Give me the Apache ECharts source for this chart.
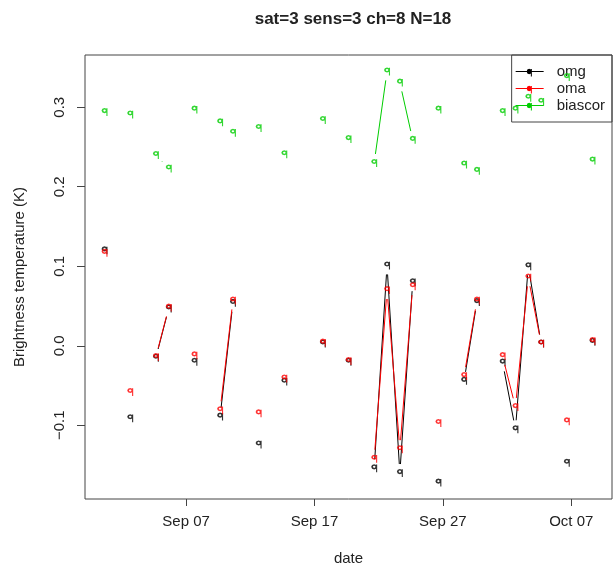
<!DOCTYPE html>
<html>
<head>
<meta charset="utf-8">
<script src="https://cdn.jsdelivr.net/npm/echarts@6/dist/echarts.min.js"></script>
<style>
  html, body { margin: 0; padding: 0; background: #fff; }
  #chart { width: 616px; height: 566px; }
</style>
</head>
<body>
<div id="chart"></div>
<script>
// Daily departures for sat=3, sensor 3, channel 8
const dates = [
  '2014-08-31', '2014-09-02', '2014-09-04', '2014-09-05', '2014-09-07', '2014-09-09',
  '2014-09-10', '2014-09-12', '2014-09-14', '2014-09-17', '2014-09-19', '2014-09-21',
  '2014-09-22', '2014-09-23', '2014-09-24', '2014-09-26', '2014-09-28', '2014-09-29',
  '2014-10-01', '2014-10-02', '2014-10-03', '2014-10-04', '2014-10-06', '2014-10-08'
];
const obsTime = 'T15:36:00Z';

const omg = [
  0.120, -0.091, -0.015, 0.047, -0.020, -0.089,
  0.054, -0.124, -0.045, 0.003, -0.020, -0.154,
  0.101, -0.160, 0.080, -0.172, -0.044, 0.055,
  -0.021, -0.105, 0.100, 0.003, -0.147, 0.005
];
const oma = [
  0.117, -0.058, -0.014, 0.048, -0.012, -0.081,
  0.057, -0.085, -0.041, 0.004, -0.019, -0.142,
  0.070, -0.130, 0.075, -0.097, -0.038, 0.057,
  -0.013, -0.077, 0.086, 0.003, -0.095, 0.006
];
const biascor = [
  0.294, 0.291, 0.240, 0.223, 0.297, 0.281,
  0.268, 0.274, 0.241, 0.284, 0.260, 0.230,
  0.345, 0.331, 0.259, 0.297, 0.228, 0.220,
  0.294, 0.297, 0.312, 0.307, 0.338, 0.233
];

const xTickDates = ['2014-09-07', '2014-09-17', '2014-09-27', '2014-10-07'];
const xTickLabels = ['Sep 07', 'Sep 17', 'Sep 27', 'Oct 07'];
const yTicks = [-0.1, 0.0, 0.1, 0.2, 0.3];

const seriesNames = ['omg', 'oma', 'biascor'];
const seriesValues = [omg, oma, biascor];
const seriesColors = ['#000000', '#ff0000', '#00cd00'];

const DAY = 86400000;
const times = dates.map(d => Date.parse(d + obsTime));
const tickTimes = xTickDates.map(d => Date.parse(d + 'T00:00:00Z'));

// axis ranges padded by 4% on each side
const tMin = Math.min(...times), tMax = Math.max(...times);
const tPad = 0.04 * (tMax - tMin);
const allVals = omg.concat(oma, biascor);
const vMin = Math.min(...allVals), vMax = Math.max(...allVals);
const vPad = 0.04 * (vMax - vMin);

// small "q" glyph used as the point marker: bowl with a hole, plus a stem
const qGlyph = 'path://' +
  'M4.5,0 L7.7,1.3 L9,4.5 L7.7,7.7 L4.5,9 L1.3,7.7 L0,4.5 L1.3,1.3 Z ' +
  'M4.5,2.6 L3.2,3.2 L2.6,4.5 L3.2,5.8 L4.5,6.4 L5.8,5.8 L6.4,4.5 L5.8,3.2 Z ' +
  'M7.3,0.6 L9,0.6 L9,14 L7.3,14 Z';
// legend key: short line with the marker on it
const legendKey = 'path://' +
  'M0,4.6 L28,4.6 L28,5.4 L0,5.4 Z ' +
  'M13.5,2.3 L15.3,3.1 L16,5 L15.3,6.9 L13.5,7.7 L11.7,6.9 L11,5 L11.7,3.1 Z ' +
  'M15.2,2.6 L16.2,2.6 L16.2,10 L15.2,10 Z M0,0 L0.02,0 L0.02,0.02 Z';

const GAP = 9; // blank space left around each point on connecting lines

function segmentsOf(vals) {
  const segs = [];
  for (let i = 0; i + 1 < vals.length; i++) {
    if (times[i + 1] - times[i] === DAY) {
      segs.push([times[i], vals[i], times[i + 1], vals[i + 1]]);
    }
  }
  return segs;
}

const series = [];
seriesNames.forEach((name, k) => {
  const color = seriesColors[k];
  series.push({
    name: name,
    type: 'custom',
    silent: true,
    encode: { x: [0, 2], y: [1, 3] },
    data: segmentsOf(seriesValues[k]),
    renderItem: function (params, api) {
      const a = api.coord([api.value(0), api.value(1)]);
      const b = api.coord([api.value(2), api.value(3)]);
      const dx = b[0] - a[0], dy = b[1] - a[1];
      const len = Math.sqrt(dx * dx + dy * dy);
      if (len <= 2 * GAP) return null;
      const ux = dx / len, uy = dy / len;
      return {
        type: 'line',
        shape: {
          x1: a[0] + ux * GAP, y1: a[1] + uy * GAP,
          x2: b[0] - ux * GAP, y2: b[1] - uy * GAP
        },
        style: { stroke: color, lineWidth: 1 }
      };
    },
    z: 2 + k
  });
  series.push({
    name: name,
    type: 'scatter',
    symbol: qGlyph,
    symbolSize: [6, 8],
    itemStyle: { color: color },
    data: times.map((t, i) => [t, seriesValues[k][i]]),
    z: 2 + k
  });
});

const chart = echarts.init(document.getElementById('chart'), null, { renderer: 'canvas' });
const font = 'Liberation Sans, Arial, Helvetica, sans-serif';

chart.setOption({
  animation: false,
  backgroundColor: '#ffffff',
  textStyle: { fontFamily: font },
  color: seriesColors,
  title: {
    text: 'sat=3 sens=3 ch=8 N=18',
    left: 348,
    textAlign: 'center',
    top: 6,
    textStyle: { fontSize: 17, fontWeight: 'bold', color: '#222', fontFamily: font }
  },
  legend: {
    orient: 'vertical',
    right: 4,
    top: 55,
    padding: [8, 7, 8, 4],
    itemGap: 0,
    itemWidth: 28,
    itemHeight: 10,
    backgroundColor: 'transparent',
    borderColor: '#444',
    borderWidth: 1,
    borderRadius: 0,
    selectedMode: false,
    textStyle: { fontSize: 15, color: '#222', lineHeight: 17, padding: [0, 0, 0, 8], fontFamily: font },
    data: seriesNames.map(n => ({ name: n, icon: legendKey }))
  },
  grid: {
    left: 85,
    right: 4,
    top: 55,
    bottom: 67,
    show: true,
    borderColor: '#444',
    borderWidth: 1,
    backgroundColor: 'transparent',
    containLabel: false,
    outerBoundsMode: 'none'
  },
  xAxis: {
    type: 'value',
    min: tMin - tPad,
    max: tMax + tPad,
    name: 'date',
    nameLocation: 'middle',
    nameGap: 52,
    nameTextStyle: { fontSize: 15, color: '#222', fontFamily: font },
    axisLine: { show: false, onZero: false },
    axisTick: { show: true, length: 7, inside: false, customValues: tickTimes, lineStyle: { color: '#444' } },
    axisLabel: {
      customValues: tickTimes,
      margin: 15,
      fontSize: 15,
      color: '#222',
      formatter: function (v) {
        const i = tickTimes.indexOf(v);
        return i >= 0 ? xTickLabels[i] : '';
      }
    },
    splitLine: { show: false }
  },
  yAxis: {
    type: 'value',
    min: vMin - vPad,
    max: vMax + vPad,
    name: 'Brightness temperature (K)',
    nameLocation: 'middle',
    nameRotate: 90,
    nameGap: 58,
    nameTextStyle: { fontSize: 15, color: '#222', fontFamily: font },
    axisLine: { show: false, onZero: false },
    axisTick: { show: true, length: 8, customValues: yTicks, lineStyle: { color: '#444' } },
    axisLabel: {
      customValues: yTicks,
      rotate: 90,
      margin: 18,
      fontSize: 15,
      color: '#222',
      formatter: function (v) {
        return v.toFixed(1).replace('-', '\u2212');
      }
    },
    splitLine: { show: false }
  },
  series: series
});
</script>
</body>
</html>
